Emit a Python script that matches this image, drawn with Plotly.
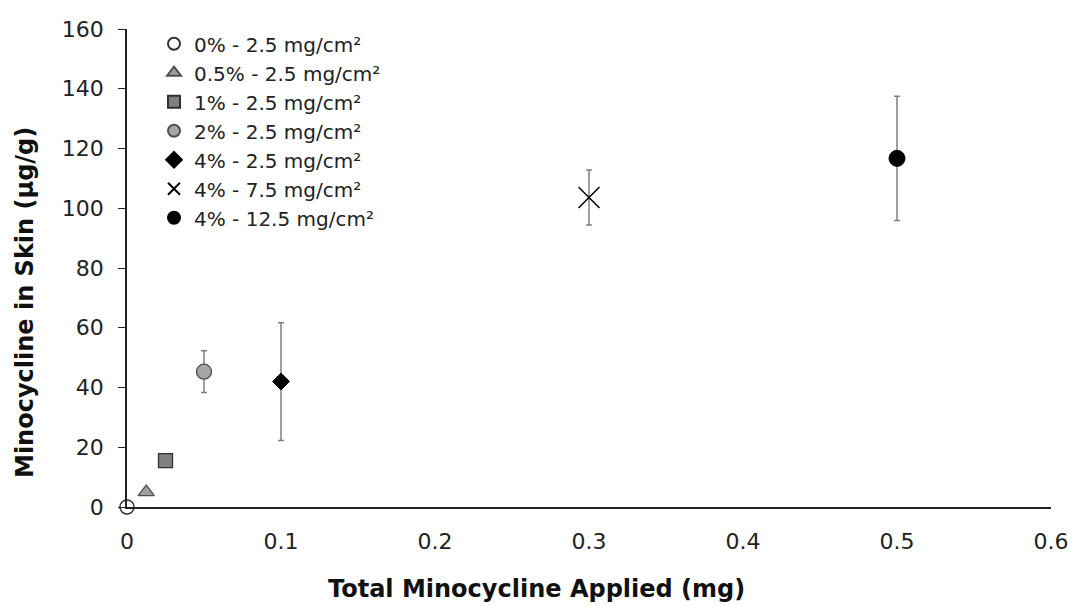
import plotly.graph_objects as go

# Data
labels = ["0% - 2.5 mg/cm²", "0.5% - 2.5 mg/cm²", "1% - 2.5 mg/cm²", "2% - 2.5 mg/cm²",
          "4% - 2.5 mg/cm²", "4% - 7.5 mg/cm²", "4% - 12.5 mg/cm²"]
applied_mg = [0.0, 0.0125, 0.025, 0.05, 0.1, 0.3, 0.5]
skin_ug_g = [0.0, 5.0, 15.5, 45.3, 42.0, 103.6, 116.7]
err_ug_g = [0.0, 0.0, 0.0, 7.0, 19.7, 9.2, 20.8]
x_title = "Total Minocycline Applied (mg)"
y_title = "Minocycline in Skin (µg/g)"

# Styles
symbols = ["circle", "triangle-up", "square", "circle", "diamond", "x-thin-open", "circle"]
fills = ["white", "#a0a0a0", "#808080", "#a6a6a6", "black", "black", "black"]
lines = ["#333333", "#505050", "#303030", "#505050", "black", "black", "black"]
sizes = [14, 14, 14, 15, 13, 21, 16]
lwidths = [1.5, 1.3, 1.3, 1.3, 1, 1.5, 1]

fig = go.Figure()
for i, lab in enumerate(labels):
    fig.add_trace(go.Scatter(
        x=[applied_mg[i]], y=[skin_ug_g[i]], mode="markers", name=lab,
        legendgroup=f"g{i}",
        cliponaxis=False,
        marker=dict(symbol=symbols[i], color=fills[i], size=sizes[i],
                    line=dict(color=lines[i], width=lwidths[i])),
        error_y=dict(type="data", array=[err_ug_g[i]], visible=err_ug_g[i] > 0,
                     color="#808080", thickness=1.5, width=3),
    ))

font_family = "DejaVu Sans, Verdana, sans-serif"
ml, mr, mt, mb = 127, 21, 29, 99
W, H = 1072, 606
pw, ph = W - ml - mr, H - mt - mb

fig.update_layout(
    width=W, height=H,
    margin=dict(l=ml, r=mr, t=mt, b=mb, autoexpand=False),
    paper_bgcolor="white", plot_bgcolor="white",
    font=dict(family=font_family, color="#222222"),
    showlegend=True,
    legend=dict(x=(154 - ml) / pw, y=1.01, xanchor="left", yanchor="top",
                font=dict(size=20, color="#222222", family=font_family),
                itemsizing="constant", itemwidth=30, tracegroupgap=0,
                bgcolor="rgba(0,0,0,0)"),
    xaxis=dict(range=[0, 0.6], dtick=0.1, tick0=0, showgrid=False, zeroline=False,
               showline=True, linecolor="#222222", linewidth=1.5, automargin=False,
               ticks="", tickfont=dict(size=22, color="#222222"),
               ticklabelstandoff=14),
    yaxis=dict(range=[0, 160], dtick=20, tick0=0, showgrid=False, zeroline=False,
               showline=True, linecolor="#222222", linewidth=1.5, automargin=False,
               ticks="outside", ticklen=7, tickcolor="#222222", tickwidth=1.2,
               tickfont=dict(size=22, color="#222222"),
               ticklabelstandoff=10),
    annotations=[
        dict(text=f"<b>{x_title}</b>", xref="paper", yref="paper",
             x=(W / 2 - ml) / pw, y=-(589 - (H - mb)) / ph,
             xanchor="center", yanchor="middle", showarrow=False,
             font=dict(size=24, color="#111111", family=font_family)),
        dict(text=f"<b>{y_title}</b>", xref="paper", yref="paper",
             x=-(ml - 25) / pw, y=1 - (H / 2 - mt) / ph, textangle=-90,
             xanchor="center", yanchor="middle", showarrow=False,
             font=dict(size=24, color="#111111", family=font_family)),
    ],
)

fig.write_html("out.html")
